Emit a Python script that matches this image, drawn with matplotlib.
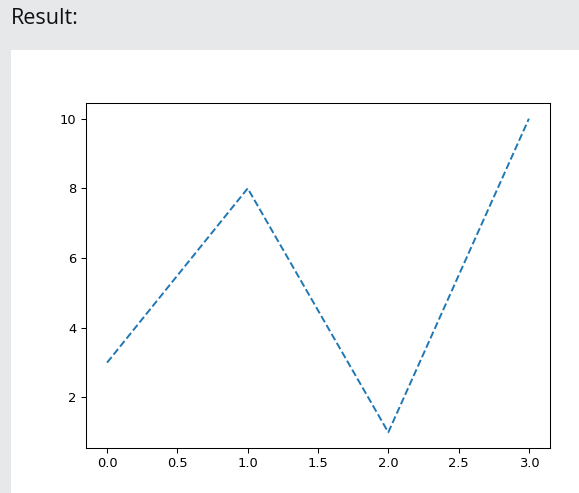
import matplotlib
matplotlib.use("Agg")
import matplotlib.pyplot as plt
from matplotlib.patches import Rectangle

x_values = [0, 1, 2, 3]
y_values = [3, 8, 1, 10]

s = 0.934
plt.rcParams['font.size'] = 10 * s
plt.rcParams['axes.linewidth'] = 0.8 * s
plt.rcParams['xtick.major.size'] = 3.5 * s
plt.rcParams['ytick.major.size'] = 3.5 * s
plt.rcParams['xtick.major.width'] = 0.8 * s
plt.rcParams['ytick.major.width'] = 0.8 * s

fig = plt.figure(figsize=(5.79, 4.93), dpi=100)
fig.patch.set_facecolor('#e7e8ea')
fig.patches.append(Rectangle((11 / 579, 0), 1, 1 - 50 / 493, transform=fig.transFigure,
                             facecolor='white', edgecolor='none', zorder=-10))
fig.text(11 / 579, 1 - 18 / 493, "Result:", fontsize=15.5, family=['Open Sans', 'DejaVu Sans'],
         va='center', ha='left', color='#111111')

ax = fig.add_axes([86 / 579, 45 / 493, 464 / 579, 345 / 493])
ax.set_zorder(5)
ax.plot(x_values, y_values, linestyle='--', linewidth=1.5 * s)

fig.savefig('out.png', dpi=100)
